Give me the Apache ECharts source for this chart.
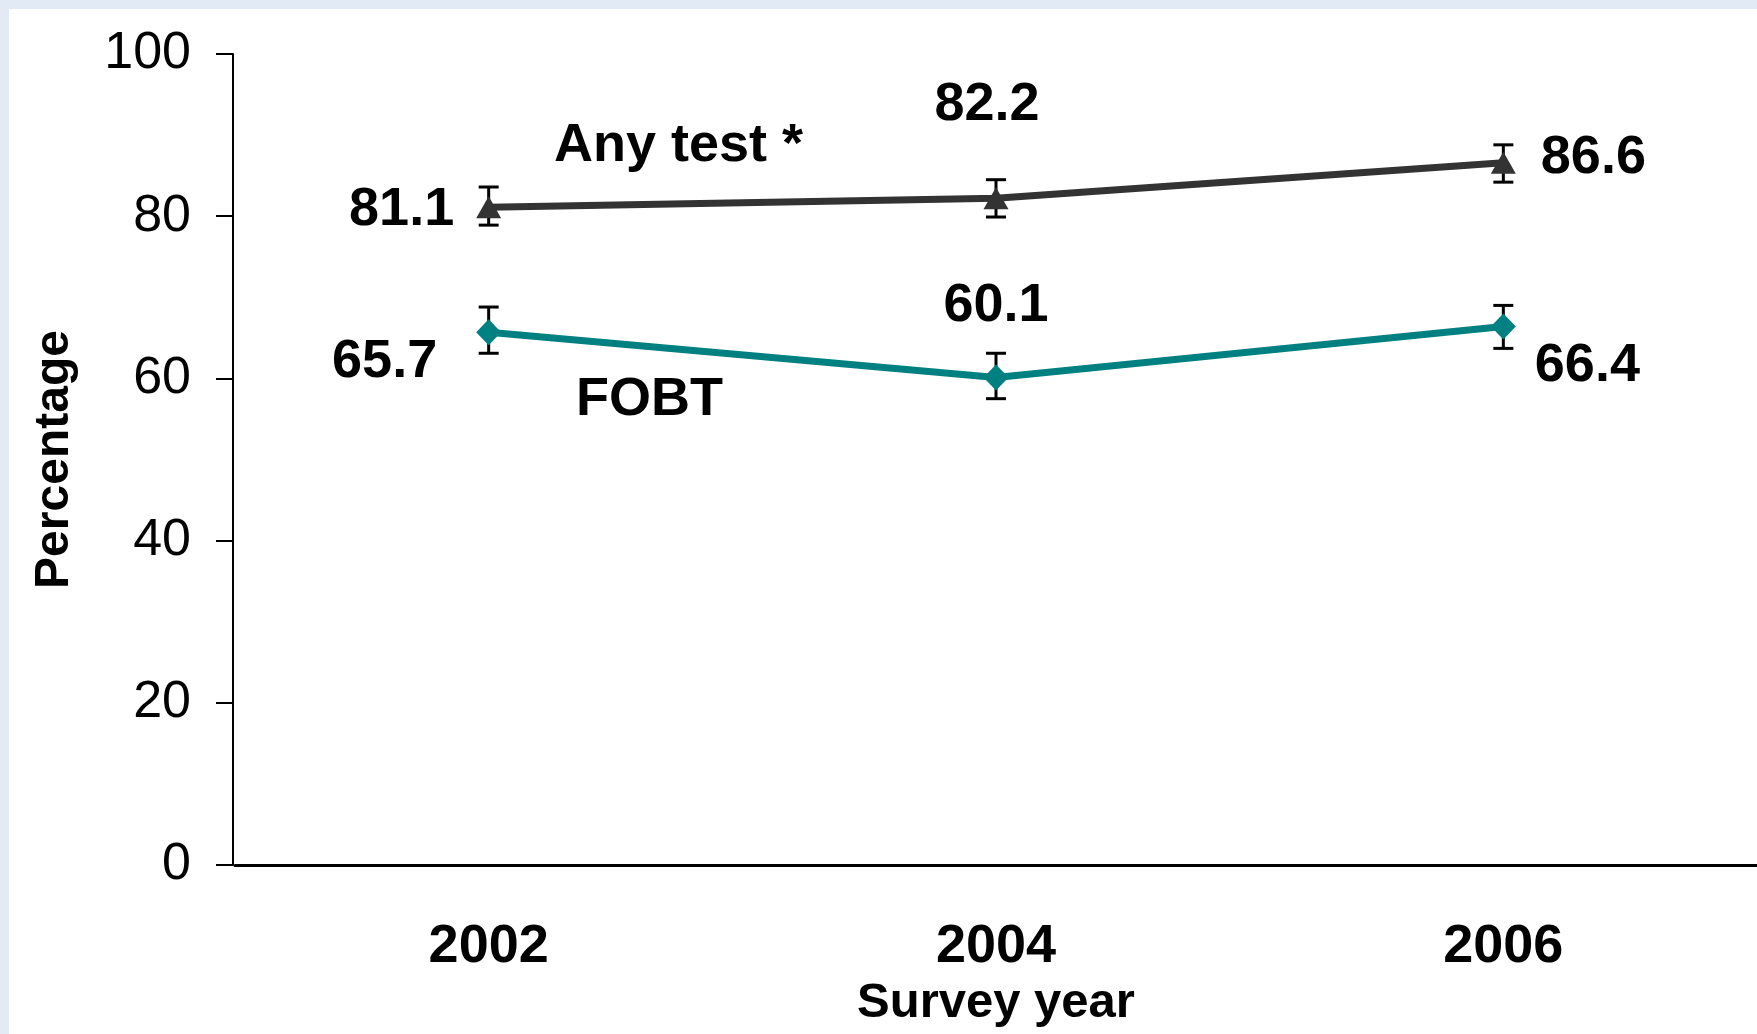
<!DOCTYPE html>
<html>
<head>
<meta charset="utf-8">
<script src="https://cdn.jsdelivr.net/npm/echarts@6/dist/echarts.min.js"></script>
<style>
  html, body {
    margin: 0;
    padding: 0;
    width: 1757px;
    height: 1034px;
    background: #e1eaf5;
    overflow: hidden;
  }
  #chart {
    position: absolute;
    left: 9px;
    top: 9px;
    width: 1748px;
    height: 1025px;
    background: #ffffff;
  }
</style>
</head>
<body>
<div id="chart"></div>
<script>
// survey years
const years = ['2002', '2004', '2006']

// percentages and 95% CI bounds
const anyTest = [81.1, 82.2, 86.6]
const anyTestLow = [78.9, 79.9, 84.2]
const anyTestHigh = [83.6, 84.5, 88.8]

const fobt = [65.7, 60.1, 66.4]
const fobtLow = [63.1, 57.5, 63.7]
const fobtHigh = [68.8, 63.1, 69.0]

const yTicks = [0, 20, 40, 60, 80, 100]

const font = '"Liberation Sans", Arial, sans-serif'

// where each value label sits relative to its point
const anyTestLabelPos = [
  { position: 'left', distance: 22, offset: [0, 3] },
  { position: 'top', distance: 55, offset: [-9, 0] },
  { position: 'right', distance: 25, offset: [0, -5] }
]
const fobtLabelPos = [
  { position: 'left', distance: 39, offset: [0, 30] },
  { position: 'top', distance: 31, offset: [0, 0] },
  { position: 'right', distance: 19, offset: [0, 40] }
]

const valueLabel = {
  show: true,
  color: '#000',
  fontFamily: font,
  fontWeight: 'bold',
  fontSize: 54
}

function withLabels(values, layout) {
  return values.map((v, i) => ({
    value: v,
    label: Object.assign({}, valueLabel, layout[i])
  }))
}

function errorData(low, high) {
  return low.map((l, i) => [i, l, high[i]])
}

function renderErrorBar(params, api) {
  const x = api.value(0)
  const top = api.coord([x, api.value(2)])
  const bottom = api.coord([x, api.value(1)])
  const half = 10
  const style = { stroke: '#000', lineWidth: 3 }
  return {
    type: 'group',
    children: [
      { type: 'line', shape: { x1: top[0], y1: top[1], x2: bottom[0], y2: bottom[1] }, style: style },
      { type: 'line', shape: { x1: top[0] - half, y1: top[1], x2: top[0] + half, y2: top[1] }, style: style },
      { type: 'line', shape: { x1: bottom[0] - half, y1: bottom[1], x2: bottom[0] + half, y2: bottom[1] }, style: style }
    ]
  }
}

const chart = echarts.init(document.getElementById('chart'), null, { renderer: 'canvas' })

const option = {
  backgroundColor: '#ffffff',
  animation: false,
  grid: {
    left: 226,
    right: -1,
    top: 45,
    bottom: 169
  },
  xAxis: {
    type: 'category',
    data: years,
    boundaryGap: true,
    name: 'Survey year',
    nameLocation: 'middle',
    nameGap: 111,
    nameTextStyle: {
      color: '#000',
      fontFamily: font,
      fontWeight: 'bold',
      fontSize: 49
    },
    axisLine: { lineStyle: { color: '#000', width: 3 } },
    axisTick: { show: false },
    axisLabel: {
      color: '#000',
      fontFamily: font,
      fontWeight: 'bold',
      fontSize: 54,
      margin: 55
    },
    splitLine: { show: false }
  },
  yAxis: {
    type: 'value',
    min: yTicks[0],
    max: yTicks[yTicks.length - 1],
    interval: 20,
    offset: 2,
    name: 'Percentage',
    nameLocation: 'middle',
    nameGap: 154,
    nameTextStyle: {
      color: '#000',
      fontFamily: font,
      fontWeight: 'bold',
      fontSize: 48
    },
    axisLine: { show: true, lineStyle: { color: '#000', width: 2 } },
    axisTick: { show: true, length: 17, lineStyle: { color: '#000', width: 2 } },
    axisLabel: {
      color: '#000',
      fontFamily: font,
      fontSize: 52,
      margin: 42
    },
    splitLine: { show: false }
  },
  graphic: [
    {
      type: 'text',
      left: 667 - 122,
      top: 137 - 27,
      style: { text: 'Any test *', fill: '#000', font: 'bold 54px ' + font }
    },
    {
      type: 'text',
      left: 641 - 74,
      top: 391 - 27,
      style: { text: 'FOBT', fill: '#000', font: 'bold 54px ' + font }
    }
  ],
  series: [
    {
      name: 'Any test CI',
      type: 'custom',
      renderItem: renderErrorBar,
      data: errorData(anyTestLow, anyTestHigh),
      encode: { x: 0, y: [1, 2] },
      z: 1,
      silent: true
    },
    {
      name: 'FOBT CI',
      type: 'custom',
      renderItem: renderErrorBar,
      data: errorData(fobtLow, fobtHigh),
      encode: { x: 0, y: [1, 2] },
      z: 1,
      silent: true
    },
    {
      name: 'Any test *',
      type: 'line',
      data: withLabels(anyTest, anyTestLabelPos),
      symbol: 'triangle',
      symbolSize: [25, 22],
      itemStyle: { color: '#333333' },
      lineStyle: { color: '#333333', width: 7 },
      z: 3
    },
    {
      name: 'FOBT',
      type: 'line',
      data: withLabels(fobt, fobtLabelPos),
      symbol: 'diamond',
      symbolSize: [25, 26],
      itemStyle: { color: '#008080' },
      lineStyle: { color: '#008080', width: 7 },
      z: 3
    }
  ]
}

chart.setOption(option)

window.addEventListener('resize', () => {
  chart.resize()
})
</script>
</body>
</html>
